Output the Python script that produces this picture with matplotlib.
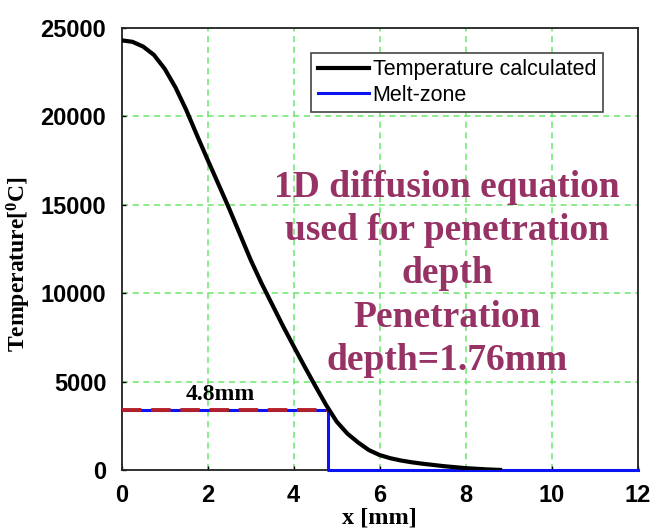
import matplotlib
matplotlib.use("Agg")
import matplotlib.pyplot as plt

plt.rcParams['mathtext.fontset'] = 'custom'
plt.rcParams['mathtext.rm'] = 'Liberation Serif:bold'
plt.rcParams['mathtext.it'] = 'Liberation Serif:bold'
plt.rcParams['mathtext.bf'] = 'Liberation Serif:bold'

# temperature profile along depth, read at fixed x steps
x_mm = [0.0, 0.25, 0.5, 0.75, 1.0, 1.25, 1.5, 1.75, 2.0, 2.25, 2.5, 2.75,
        3.0, 3.25, 3.5, 3.75, 4.0, 4.25, 4.5, 4.75, 5.0, 5.25, 5.5, 5.75,
        6.0, 6.25, 6.5, 6.75, 7.0, 7.5, 8.0, 8.5, 8.8]
temp_c = [24300, 24220, 23950, 23480, 22700, 21650, 20380, 18950, 17550,
          16180, 14800, 13350, 11900, 10590, 9380, 8170, 7020, 5890, 4790,
          3720, 2760, 2080, 1580, 1150, 870, 690, 560, 460, 380, 240, 130,
          60, 30]

melt_temp = 3422      # melting point used for the melt-zone step
melt_depth = 4.8      # depth where the profile crosses it
x_max = 12

melt_x = [0, melt_depth, melt_depth, x_max]
melt_y = [melt_temp, melt_temp, 0, 0]

note_lines = ['1D diffusion equation', 'used for penetration', 'depth',
              'Penetration', 'depth=1.76mm']

fig = plt.figure(figsize=(6.54, 5.28), dpi=100)
ax = fig.add_axes([0.186, 0.109, 0.789, 0.838])

ax.grid(True, color='#6be86b', linestyle=(0, (4, 3)), linewidth=1.1)
ax.set_axisbelow(True)

ax.plot(x_mm, temp_c, color='black', linewidth=3.0,
        label='Temperature calculated', zorder=4)
ax.plot(melt_x, melt_y, color='#0a14f0', linewidth=2.2,
        label='Melt-zone', zorder=3, clip_on=False)
ax.plot([0, melt_depth], [melt_temp, melt_temp], color='#b3202a',
        linewidth=2.8, linestyle=(0, (5, 2.5)), zorder=3.5)

ax.text(2.3, 4000, '%.1fmm' % melt_depth, ha='center', va='baseline',
        fontsize=17, fontweight='bold', family='Liberation Serif')
ax.text(7.57, 11100, '\n'.join(note_lines), ha='center', va='center',
        multialignment='center', fontsize=27, fontweight='bold',
        family='Liberation Serif', color='#973264', linespacing=1.3,
        zorder=5)

ax.set_xlim(0, x_max)
ax.set_ylim(0, 25000)
ax.set_xticks(range(0, 13, 2))
ax.set_yticks(range(0, 25001, 5000))
ax.tick_params(direction='in', length=3, width=1)
ax.tick_params(axis='y', pad=11)
ax.tick_params(axis='x', pad=10)
for lab in ax.get_xticklabels() + ax.get_yticklabels():
    lab.set_fontfamily('Liberation Sans')
    lab.set_fontweight('bold')
    lab.set_fontsize(17)

for sp in ax.spines.values():
    sp.set_linewidth(1.3)
    sp.set_color('#222222')

ax.set_xlabel('x [mm]', fontsize=17.5, fontweight='bold',
              family='Liberation Serif', labelpad=0)
ax.set_ylabel(r'Temperature[$^{0}$C]', fontsize=17, fontweight='bold',
              family='Liberation Serif')
ax.yaxis.set_label_coords(-0.171, 0.467)

leg = ax.legend(loc='upper right', bbox_to_anchor=(0.932, 0.944),
                borderaxespad=0, fancybox=False, framealpha=1,
                edgecolor='#444444', prop={'family': 'Liberation Sans',
                                           'size': 15.5},
                handlelength=2.4, handletextpad=0.15, labelspacing=0.2,
                borderpad=0.3)
leg.get_frame().set_linewidth(1.2)

fig.savefig('out.png', dpi=100)
